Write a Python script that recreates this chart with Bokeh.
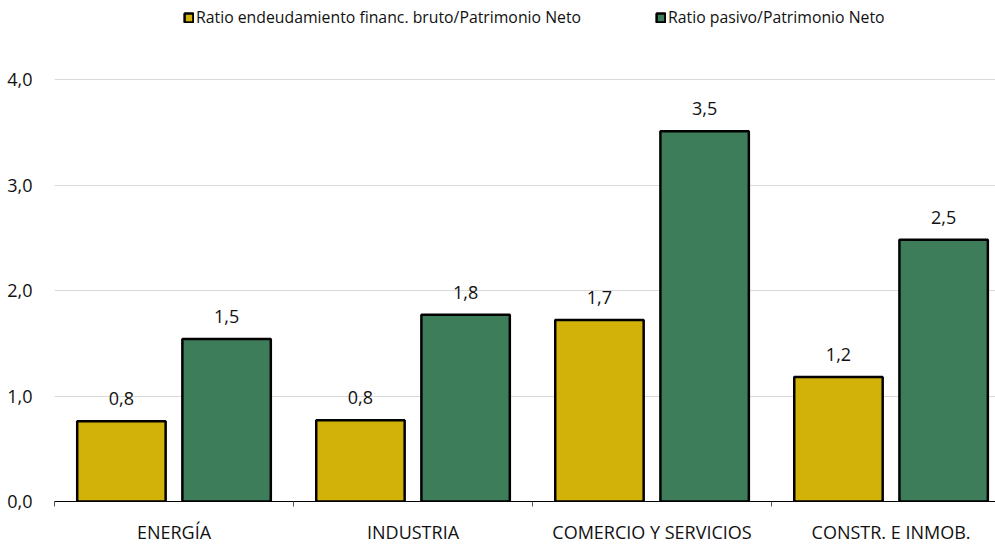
from bokeh.plotting import figure
from bokeh.models import Legend, LegendItem, FixedTicker, ColumnDataSource, Range1d
from bokeh.core.properties import value
from bokeh.embed import file_html
from bokeh.resources import INLINE

categories = ["ENERGÍA", "INDUSTRIA", "COMERCIO Y SERVICIOS", "CONSTR. E INMOB."]
ratio_endeudamiento = [0.76, 0.77, 1.72, 1.18]
ratio_pasivo = [1.54, 1.77, 3.51, 2.48]
series_names = ["Ratio endeudamiento financ. bruto/Patrimonio Neto", "Ratio pasivo/Patrimonio Neto"]
y_ticks = [0, 1, 2, 3, 4]
y_tick_labels = ["0,0", "1,0", "2,0", "3,0", "4,0"]

YELLOW = "#D2B208"
GREEN = "#3E7D5A"
FONT = "Open Sans"

def fmt(v):
    return f"{v:.1f}".replace(".", ",")

idx = list(range(len(categories)))
off = 0.22
src1 = ColumnDataSource(dict(x=[i - off for i in idx], top=ratio_endeudamiento,
                             lab=[fmt(v) for v in ratio_endeudamiento]))
src2 = ColumnDataSource(dict(x=[i + off for i in idx], top=ratio_pasivo,
                             lab=[fmt(v) for v in ratio_pasivo]))

p = figure(width=995, height=546, output_backend="svg", toolbar_location=None,
           x_range=Range1d(-0.5, 3.437), y_range=Range1d(0, 4.749),
           min_border_left=54, min_border_right=0, min_border_top=0, min_border_bottom=45)
p.outline_line_color = None
p.background_fill_color = "white"

r1 = p.vbar(x="x", top="top", bottom=0, width=0.37, source=src1,
            fill_color=YELLOW, line_color="black", line_width=2.5)
r2 = p.vbar(x="x", top="top", bottom=0, width=0.37, source=src2,
            fill_color=GREEN, line_color="black", line_width=2.5)

for s in (src1, src2):
    p.text(x="x", y="top", text="lab", source=s, text_align="center", text_baseline="bottom",
           y_offset=-16, text_font=value(FONT), text_font_size="18px", text_color="#111111")

# y axis
p.yaxis.ticker = FixedTicker(ticks=y_ticks)
p.yaxis.major_label_overrides = dict(zip(y_ticks, y_tick_labels))
p.yaxis.axis_line_color = None
p.yaxis.major_tick_line_color = None
p.yaxis.minor_tick_line_color = None
p.yaxis.major_label_standoff = 16
p.yaxis.major_label_text_font = FONT
p.yaxis.major_label_text_font_size = "18px"
p.yaxis.major_label_text_color = "#111111"
p.ygrid.ticker = FixedTicker(ticks=y_ticks[1:])
p.ygrid.grid_line_color = "#d9d9d9"
p.ygrid.grid_line_width = 1
p.xgrid.grid_line_color = None

# x axis
p.xaxis.ticker = FixedTicker(ticks=idx, minor_ticks=[i - 0.5 for i in idx])
p.xaxis.major_label_overrides = dict(zip(idx, categories))
p.xaxis.major_tick_line_color = None
p.xaxis.minor_tick_line_color = "#555555"
p.xaxis.minor_tick_out = 5
p.xaxis.minor_tick_in = 0
p.xaxis.axis_line_color = "black"
p.xaxis.axis_line_width = 1
p.xaxis.major_label_standoff = 12
p.xaxis.major_label_text_font = FONT
p.xaxis.major_label_text_font_size = "18px"
p.xaxis.major_label_text_color = "#111111"

for r, name, xloc in ((r1, series_names[0], 129), (r2, series_names[1], 601)):
    lg = Legend(items=[LegendItem(label=name, renderers=[r])], location=(xloc, 473),
                orientation="horizontal", border_line_color=None, background_fill_alpha=0,
                padding=0, margin=0, glyph_width=11, glyph_height=11, label_standoff=2,
                label_text_font=FONT, label_text_font_size="15.8px", label_text_color="#111111")
    p.add_layout(lg, "center")

open("out.html", "w").write(file_html(p, INLINE))
